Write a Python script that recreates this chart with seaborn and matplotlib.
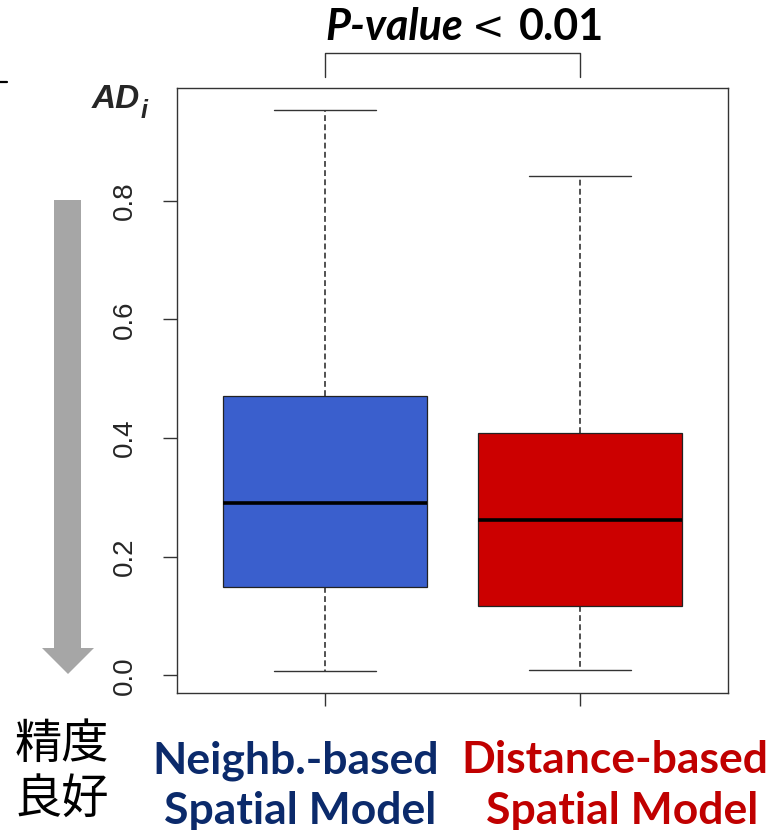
import numpy as np
import pandas as pd
import matplotlib
matplotlib.use("Agg")
import matplotlib.pyplot as plt
import matplotlib.transforms as mtransforms
from matplotlib.patches import Polygon
import seaborn as sns

# ---- data (five-number summaries) ----
models = ["Neighb.-based\nSpatial Model", "Distance-based\nSpatial Model"]
lower_whisker = [0.008, 0.009]
q1 = [0.149, 0.117]
median = [0.291, 0.261]
q3 = [0.470, 0.409]
upper_whisker = [0.952, 0.841]
box_colors = ["#3A5FCD", "#CC0000"]
label_colors = ["#0B2A6B", "#C00000"]
yticks = [0.0, 0.2, 0.4, 0.6, 0.8]
title_parts = ["P-value", "<", "0.01"]
ylab_main, ylab_sub = "AD", "i"
side_text = "精度\n良好"

rows = []
for m, a, b, c, d, e in zip(models, lower_whisker, q1, median, q3, upper_whisker):
    for v in (a, b, c, d, e):
        rows.append({"model": m, "ADi": v})
df = pd.DataFrame(rows)

W, H = 775, 830
DPI = 100
sns.set_theme(style="white")
plt.rcParams["font.family"] = ["Liberation Sans", "DejaVu Sans"]

fig = plt.figure(figsize=(W / DPI, H / DPI), dpi=DPI)

def fx(px):
    return px / W

def fy(py):
    return 1 - py / H

ax = fig.add_axes([fx(177), fy(693), fx(728) - fx(177), fy(88) - fy(693)])

sns.boxplot(
    data=df, x="model", y="ADi", hue="model", palette=box_colors,
    order=models, hue_order=models, width=0.8, whis=(0, 100),
    showfliers=False, legend=False, linecolor="black", linewidth=0.9,
    saturation=1, ax=ax,
    boxprops=dict(edgecolor="#222222", linewidth=0.9),
    medianprops=dict(color="black", linewidth=2.6),
    whiskerprops=dict(color="#222222", linestyle=(0, (3.8, 2.2)), linewidth=1.1),
    capprops=dict(color="#333333", linewidth=1.0),
)

ymin = min(lower_whisker)
ymax = max(upper_whisker)
rng = ymax - ymin
ax.set_ylim(ymin - 0.04 * rng, ymax + 0.04 * rng)
ax.set_xlim(-0.5 - 0.04 * 2, 1.5 + 0.04 * 2)

for s in ax.spines.values():
    s.set_visible(True)
    s.set_color("#333333")
    s.set_linewidth(1.0)

ax.set_yticks(yticks)
ax.set_yticklabels([f"{t:.1f}" for t in yticks], rotation=90, va="center",
                   fontsize=20, family=["Liberation Sans", "DejaVu Sans"])
ax.set_xticks([0, 1])
ax.set_xticklabels(["", ""])
ax.tick_params(axis="y", direction="out", length=10, width=1.0, color="#333333",
               pad=18, left=True)
ax.tick_params(axis="x", direction="out", length=9, width=1.0, color="#333333",
               bottom=True)
ax.set_xlabel("")
ax.set_ylabel("")

# category labels under the axes
label_x = [(296, 300), (615, 622)]
for m, col, (x1, x2) in zip(models, label_colors, label_x):
    l1, l2 = m.split("\n")
    fig.text(fx(x1), fy(773), l1, ha="center", va="baseline",
             fontsize=32, fontweight="bold", color=col, family=["Lato", "DejaVu Sans"])
    fig.text(fx(x2), fy(824), l2, ha="center", va="baseline",
             fontsize=32, fontweight="bold", color=col, family=["Lato", "DejaVu Sans"])

# Chinese side text
lines = side_text.split("\n")
fig.text(fx(62), fy(745), lines[0], ha="center", va="center", fontsize=34,
         family=["Noto Sans CJK JP", "DejaVu Sans"], color="black")
fig.text(fx(62), fy(800), lines[1], ha="center", va="center", fontsize=34,
         family=["Noto Sans CJK JP", "DejaVu Sans"], color="black")

# y label AD_i
t_ad = fig.text(fx(92), fy(108), ylab_main, ha="left", va="baseline", fontsize=24,
                fontweight="bold", style="italic", family=["Liberation Sans", "DejaVu Sans"])
fig.canvas.draw()
r = fig.canvas.get_renderer()
bb = t_ad.get_window_extent(r)
fig.text(bb.x1 / W, fy(118), ylab_sub, ha="left", va="baseline", fontsize=18,
         fontweight="bold", style="italic", family=["Liberation Sans", "DejaVu Sans"])

# title P-value < 0.01 assembled from pieces
x_cur = 325
styles = [dict(fontweight="bold", style="italic", family=["Lato", "DejaVu Sans"]),
          dict(fontweight="normal", family=["DejaVu Sans"]),
          dict(fontweight="bold", family=["Lato", "DejaVu Sans"])]
sizes = [31, 28, 31]
gaps = [9, 15, 0]
for part, st, sz, g in zip(title_parts, styles, sizes, gaps):
    t = fig.text(fx(x_cur), fy(40), part, ha="left", va="baseline", fontsize=sz,
                 color="black", **st)
    b = t.get_window_extent(r)
    x_cur = b.x1 + g

# significance bracket (x in data, y in figure)
trans = mtransforms.blended_transform_factory(ax.transData, fig.transFigure)
ax.plot([0, 0, 1, 1], [fy(77), fy(53), fy(53), fy(77)], color="#333333",
        linewidth=1.0, transform=trans, clip_on=False)

# grey arrow on the left
arrow_pts = [(54, 200), (81, 200), (81, 648), (94, 648), (68, 674), (42, 648), (54, 648)]
fig.patches.append(Polygon([(fx(a), fy(b)) for a, b in arrow_pts], closed=True,
                           transform=fig.transFigure, facecolor="#A6A6A6",
                           edgecolor="none"))

# small mark at the top-left corner
fig.lines.append(plt.Line2D([fx(0), fx(7)], [fy(82), fy(82)], color="black",
                            linewidth=1.6, transform=fig.transFigure))

fig.savefig("out.png", dpi=DPI)
